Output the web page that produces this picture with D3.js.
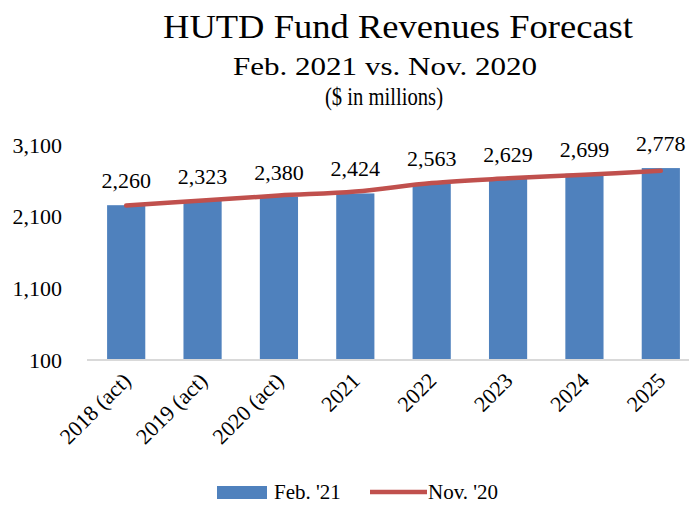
<!DOCTYPE html>
<html>
<head>
<meta charset="utf-8">
<script src="https://cdn.jsdelivr.net/npm/d3@7"></script>
<style>
  body { margin: 0; background: #fff; }
  svg { display: block; font-family: "Liberation Serif", "DejaVu Serif", serif; }
</style>
</head>
<body>
<svg id="chart"></svg>
<script>
const categories = ["2018 (act)", "2019 (act)", "2020 (act)", "2021", "2022", "2023", "2024", "2025"];
const feb21 = [2260, 2323, 2380, 2424, 2563, 2629, 2699, 2778];
const nov20 = [2255, 2325, 2395, 2450, 2570, 2635, 2685, 2740];
const yTicks = [100, 1100, 2100, 3100];

const W = 693, H = 505;
const svg = d3.select("#chart").attr("width", W).attr("height", H);

const x = d3.scaleBand().domain(categories).range([88, 699]).paddingInner(0.5).paddingOuter(0.25);
const y = d3.scaleLinear().domain([100, 3100]).range([360, 145]);

// Titles
svg.append("text").attr("x", 398).attr("y", 38).attr("text-anchor", "middle")
  .style("font-size", "33px").attr("textLength", 470).attr("lengthAdjust", "spacingAndGlyphs")
  .text("HUTD Fund Revenues Forecast");
svg.append("text").attr("x", 385).attr("y", 75).attr("text-anchor", "middle")
  .style("font-size", "26px").attr("textLength", 304).attr("lengthAdjust", "spacingAndGlyphs")
  .text("Feb. 2021 vs. Nov. 2020");
svg.append("text").attr("x", 384).attr("y", 105).attr("text-anchor", "middle")
  .style("font-size", "26px").attr("textLength", 118).attr("lengthAdjust", "spacingAndGlyphs")
  .text("($ in millions)");

// Y axis (labels only)
const yAxis = svg.append("g").attr("transform", "translate(62,0)")
  .call(d3.axisLeft(y).tickValues(yTicks).tickSize(0).tickPadding(0).tickFormat(d3.format(",")));
yAxis.select(".domain").remove();
yAxis.selectAll("text").style("font-size", "22px").style("font-family", "Liberation Serif").attr("fill", "#000");

// Bars
svg.append("g").selectAll("rect")
  .data(feb21)
  .join("rect")
  .attr("x", (d, i) => x(categories[i]))
  .attr("width", x.bandwidth())
  .attr("y", d => y(d))
  .attr("height", d => y(100) - y(d))
  .attr("fill", "#4F81BD");

// X axis
const xAxis = svg.append("g").attr("transform", "translate(0,360)")
  .call(d3.axisBottom(x).tickSize(0).tickPadding(0));
xAxis.select(".domain").attr("stroke", "#D9D9D9").attr("stroke-width", 2)
  .attr("d", "M87,0H689");
xAxis.selectAll("text")
  .style("font-size", "22px").style("font-family", "Liberation Serif").attr("fill", "#000")
  .attr("text-anchor", "end")
  .attr("dy", "0")
  .attr("transform", "translate(6,22) rotate(-45)");

// Line
const line = d3.line()
  .x((d, i) => x(categories[i]) + x.bandwidth() / 2)
  .y(d => y(d))
  .curve(d3.curveCatmullRom.alpha(0.5));
svg.append("path")
  .datum(nov20)
  .attr("d", line)
  .attr("fill", "none")
  .attr("stroke", "#C0504D")
  .attr("stroke-width", 4.5)
  .attr("stroke-linecap", "round");

// Data labels
svg.append("g").selectAll("text")
  .data(feb21)
  .join("text")
  .attr("x", (d, i) => x(categories[i]) + x.bandwidth() / 2)
  .attr("y", d => y(d) - 17)
  .attr("text-anchor", "middle")
  .style("font-size", "22px")
  .text(d3.format(","));

// Legend
const legend = svg.append("g");
legend.append("rect").attr("x", 217).attr("y", 486).attr("width", 50).attr("height", 13).attr("fill", "#4F81BD");
legend.append("text").attr("x", 274).attr("y", 499).style("font-size", "21px").text("Feb. '21");
legend.append("line").attr("x1", 370).attr("x2", 427).attr("y1", 492).attr("y2", 492)
  .attr("stroke", "#C0504D").attr("stroke-width", 4.5);
legend.append("text").attr("x", 428).attr("y", 499).style("font-size", "21px").text("Nov. '20");
</script>
</body>
</html>
